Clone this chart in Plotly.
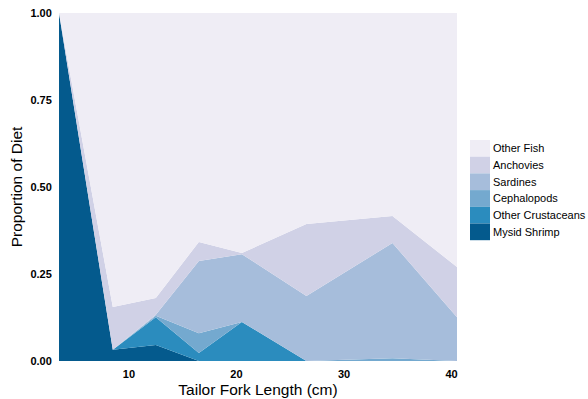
import plotly.graph_objects as go

# Tailor fork length bins (cm)
length_cm = [3.5, 8.5, 12.5, 16.5, 20.5, 26.5, 34.5, 40.5]

# Diet proportions per prey group
mysid_shrimp = [1.000, 0.032, 0.046, 0.000, 0.000, 0.000, 0.000, 0.000]
other_crustaceans = [0.000, 0.000, 0.080, 0.023, 0.112, 0.000, 0.000, 0.000]
cephalopods = [0.000, 0.000, 0.004, 0.057, 0.000, 0.000, 0.008, 0.000]
sardines = [0.000, 0.000, 0.003, 0.207, 0.195, 0.187, 0.331, 0.126]
anchovies = [0.000, 0.123, 0.048, 0.055, 0.003, 0.207, 0.078, 0.144]
other_fish = [0.000, 0.845, 0.819, 0.658, 0.690, 0.606, 0.583, 0.730]

series = [
    ("Mysid Shrimp", mysid_shrimp, "#045a8d"),
    ("Other Crustaceans", other_crustaceans, "#2b8cbe"),
    ("Cephalopods", cephalopods, "#74a9cf"),
    ("Sardines", sardines, "#a6bddb"),
    ("Anchovies", anchovies, "#d0d1e6"),
    ("Other Fish", other_fish, "#efedf5"),
]

W, H = 588, 399
ML, MR, MT, MB = 59, 131, 13, 38
plot_w = W - ML - MR
plot_h = H - MT - MB

fig = go.Figure()
for name, vals, color in series:
    fig.add_trace(go.Scatter(
        x=length_cm, y=vals, name=name, mode="lines",
        stackgroup="diet", line=dict(width=0, color=color),
        fillcolor=color, hoverinfo="x+y+name", showlegend=False,
    ))

font_family = "Arial, Liberation Sans, sans-serif"

# Key: contiguous swatches, top entry is the top of the stack
key_left_px, key_top_px = 470, 140
key_w_px, key_h_px = 20, 16.7
shapes, annotations = [], []
for i, (name, _, color) in enumerate(reversed(series)):
    top = key_top_px + i * key_h_px
    x0 = (key_left_px - ML) / plot_w
    x1 = (key_left_px + key_w_px - ML) / plot_w
    y1 = 1 - (top - MT) / plot_h
    y0 = 1 - (top + key_h_px - MT) / plot_h
    shapes.append(dict(type="rect", xref="paper", yref="paper",
                       x0=x0, x1=x1, y0=y0, y1=y1,
                       fillcolor=color, line=dict(width=0), layer="above"))
    annotations.append(dict(xref="paper", yref="paper",
                            x=(key_left_px + key_w_px + 1 - ML) / plot_w,
                            y=(y0 + y1) / 2, xanchor="left", yanchor="middle",
                            text=name, showarrow=False,
                            font=dict(size=11, family=font_family, color="black")))

fig.update_layout(
    width=W, height=H,
    margin=dict(l=ML, r=MR, t=MT, b=MB, autoexpand=False),
    paper_bgcolor="white", plot_bgcolor="white",
    font=dict(family=font_family, color="black"),
    showlegend=False,
    shapes=shapes, annotations=annotations,
    xaxis=dict(
        range=[3.5, 40.5], tickvals=[10, 20, 30, 40], showgrid=False,
        zeroline=False, showline=False, ticks="outside", ticklen=3,
        tickcolor="rgba(0,0,0,0)",
        tickfont=dict(size=11, family=font_family, color="black", weight="bold"),
        title=dict(text="Tailor Fork Length (cm)", font=dict(size=15.5, family=font_family), standoff=4),
    ),
    yaxis=dict(
        range=[0, 1], tickvals=[0, 0.25, 0.5, 0.75, 1.0], tickformat=".2f",
        showgrid=False, zeroline=False, showline=False, ticks="outside", ticklen=4,
        tickcolor="rgba(0,0,0,0)",
        tickfont=dict(size=11, family=font_family, color="black", weight="bold"),
        title=dict(text="Proportion of Diet", font=dict(size=15.5, family=font_family), standoff=3),
    ),
)

fig.write_html("out.html")
